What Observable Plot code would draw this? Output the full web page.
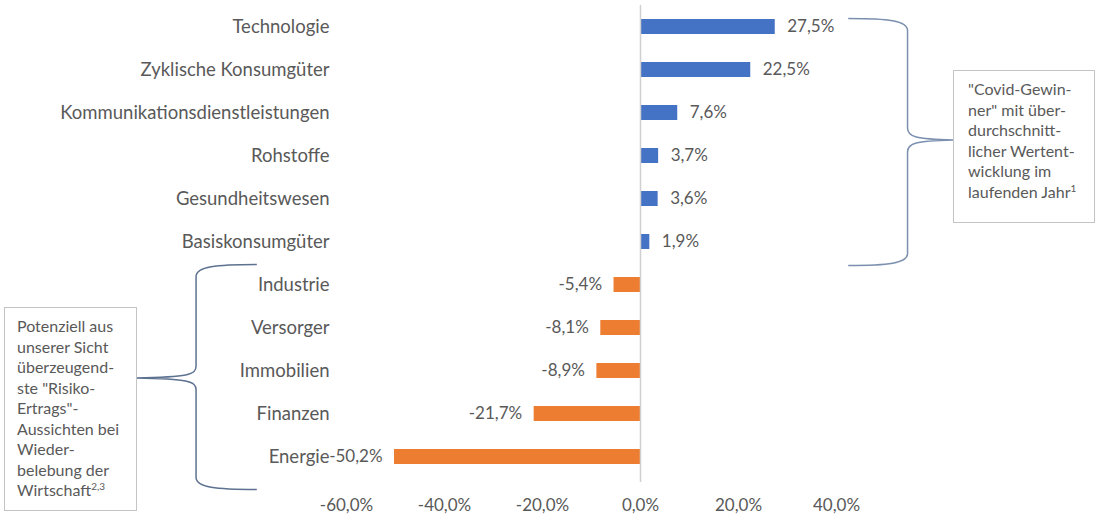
<!DOCTYPE html>
<html>
<head>
<meta charset="utf-8">
<script src="https://cdn.jsdelivr.net/npm/d3@7"></script>
<script src="https://cdn.jsdelivr.net/npm/@observablehq/plot@0.6"></script>
<style>
  html, body { margin: 0; padding: 0; background: #fff; }
  #wrap { position: relative; width: 1096px; height: 528px; overflow: hidden; font-family: Lato, "Open Sans", sans-serif; color: #595959; }
  .box { position: absolute; box-sizing: border-box; border: 1.5px solid #c4c4c4; background: #fff; font-size: 16px; line-height: 20.5px; color: #595959; }
  .box sup { font-size: 10px; vertical-align: 6px; line-height: 0; }
</style>
</head>
<body>
<div id="wrap"></div>
<script>
const categories = ["Technologie", "Zyklische Konsumgüter", "Kommunikationsdienstleistungen", "Rohstoffe", "Gesundheitswesen", "Basiskonsumgüter", "Industrie", "Versorger", "Immobilien", "Finanzen", "Energie"];
const values = [27.5, 22.5, 7.6, 3.7, 3.6, 1.9, -5.4, -8.1, -8.9, -21.7, -50.2];
const xTicks = [-60, -40, -20, 0, 20, 40];
const rightNote = ['"Covid-Gewin-', 'ner" mit über-', 'durchschnitt-', 'licher Wertent-', 'wicklung im', 'laufenden Jahr<sup>1</sup>'];
const leftNote = ['Potenziell aus', 'unserer Sicht', 'überzeugend-', 'ste "Risiko-', 'Ertrags"-', 'Aussichten bei', 'Wieder-', 'belebung der', 'Wirtschaft<sup>2,3</sup>'];

const rows = categories.map((c, i) => ({cat: c, value: values[i]}));
const fmt = v => v.toFixed(1).replace(".", ",") + "%";

const chart = Plot.plot({
  width: 1096,
  height: 528,
  marginLeft: 346,
  marginRight: 260,
  marginTop: 2,
  marginBottom: 46,
  style: {fontFamily: "Lato, 'Open Sans', sans-serif", fontSize: "16px", color: "#595959", background: "transparent", overflow: "visible"},
  x: {domain: [-60, 40], label: null},
  y: {domain: categories, paddingInner: 0.65, paddingOuter: 0.325, label: null},
  marks: [
    Plot.axisX({ticks: xTicks, tickFormat: fmt, tickSize: 0, tickPadding: 16, label: null, fontSize: 17}),
    Plot.axisY({tickSize: 0, tickPadding: 17, label: null, fontSize: 18.5}),
    Plot.barX(rows.filter(d => d.value >= 0), {x: "value", y: "cat", fill: "#4472C4"}),
    Plot.barX(rows.filter(d => d.value < 0), {x: "value", y: "cat", fill: "#ED7D31"}),
    Plot.ruleX([0], {stroke: "#d0d0d0", strokeWidth: 1.5, insetTop: 3}),
    Plot.text(rows.filter(d => d.value >= 0), {x: "value", y: "cat", text: d => fmt(d.value), textAnchor: "start", dx: 12, fontSize: 17, fill: "#595959"}),
    Plot.text(rows.filter(d => d.value < 0), {x: "value", y: "cat", text: d => fmt(d.value), textAnchor: "end", dx: -12, fontSize: 17, fill: "#595959"})
  ]
});

const wrap = document.getElementById("wrap");
wrap.appendChild(chart);

// Annotation braces positioned from the chart's scales
const xs = chart.scale("x"), ys = chart.scale("y");
const bw = ys.bandwidth;
const center = c => ys.apply(c) + bw / 2;
const svg = d3.select(chart.tagName.toLowerCase() === "svg" ? chart : chart.querySelector("svg"));

function brace(x0, xv, xt, yTop, yTip, yBot) {
  const s = Math.sign(xv - x0);
  return `M${x0},${yTop} C${xv - s * 20},${yTop} ${xv},${yTop + 2} ${xv},${yTop + 12}` +
         ` L${xv},${yTip - 12} C${xv},${yTip - 3} ${xv + s * 8},${yTip - 1} ${xt},${yTip}` +
         ` C${xv + s * 8},${yTip + 1} ${xv},${yTip + 3} ${xv},${yTip + 12}` +
         ` L${xv},${yBot - 12} C${xv},${yBot - 2} ${xv - s * 20},${yBot} ${x0},${yBot}`;
}

// right brace: groups positive sectors
const rTop = center(categories[0]) - 8;
const rBot = center(categories[5]) + 24;
svg.append("path")
  .attr("d", brace(xs.apply(42.5), xs.apply(54.6), xs.apply(63.9), rTop, 140, rBot))
  .attr("fill", "none").attr("stroke", "#7b8fae").attr("stroke-width", 1.5);

// left brace: groups negative sectors
const lTop = center(categories[6]) - 20;
const lBot = center(categories[10]) + 33;
svg.append("path")
  .attr("d", brace(xs.apply(-78.2), xs.apply(-90.6), xs.apply(-102.9), lTop, 378, lBot))
  .attr("fill", "none").attr("stroke", "#5d7190").attr("stroke-width", 1.5);

function addBox(lines, left, top, width, height, padLeft, padTop) {
  const d = document.createElement("div");
  d.className = "box";
  d.style.left = left + "px"; d.style.top = top + "px";
  d.style.width = width + "px"; d.style.height = height + "px";
  d.style.paddingLeft = padLeft + "px"; d.style.paddingTop = padTop + "px";
  d.innerHTML = lines.join("<br>");
  wrap.appendChild(d);
}
addBox(rightNote, 953, 70, 142, 153, 14, 8);
addBox(leftNote, 4, 307, 133, 204, 12, 8);
</script>
</body>
</html>
